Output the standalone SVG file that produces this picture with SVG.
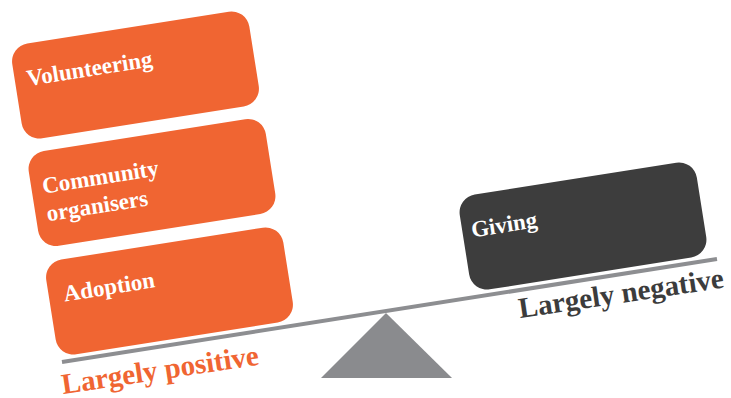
<svg xmlns="http://www.w3.org/2000/svg" width="731" height="398" viewBox="0 0 731 398">
<style>
.box{fill:#f06532}
.dark{fill:#3d3d3d}
.t{font-family:'Liberation Serif','Times New Roman',serif;font-weight:700;font-size:23px;fill:#ffffff}
.lab{font-family:'Liberation Serif','Times New Roman',serif;font-weight:700;font-size:29px}
</style>
<rect width="731" height="398" fill="#ffffff"/>
<g id="connectors">
<line x1="62" y1="362" x2="717" y2="259" stroke="#8d8e91" stroke-width="4"/>
<polygon points="321,378 452,378 386,313" fill="#8a8b8e"/>
</g>
<g id="volunteering" transform="translate(135.5,75) rotate(-9)">
<rect class="box" x="-120" y="-48" width="240" height="96" rx="18"/>
<text class="t" x="-108" y="-6">Volunteering</text>
</g>
<g id="community" transform="translate(152,182.5) rotate(-9)">
<rect class="box" x="-120" y="-48" width="240" height="96" rx="18"/>
<text class="t" x="-109" y="-6">Community</text>
<text class="t" x="-109" y="22">organisers</text>
</g>
<g id="adoption" transform="translate(169.5,291) rotate(-9)">
<rect class="box" x="-120" y="-48" width="240" height="96" rx="18"/>
<text class="t" x="-105" y="-6">Adoption</text>
</g>
<g id="giving" transform="translate(583,226) rotate(-9)">
<rect class="dark" x="-120" y="-48" width="240" height="96" rx="18"/>
<text class="t" x="-111" y="-6">Giving</text>
</g>
<g id="labels">
<text class="lab" fill="#f06532" transform="translate(63,394) rotate(-8.5)">Largely positive</text>
<text class="lab" fill="#3c3c3c" transform="translate(520,318) rotate(-8.5)">Largely negative</text>
</g>
</svg>
